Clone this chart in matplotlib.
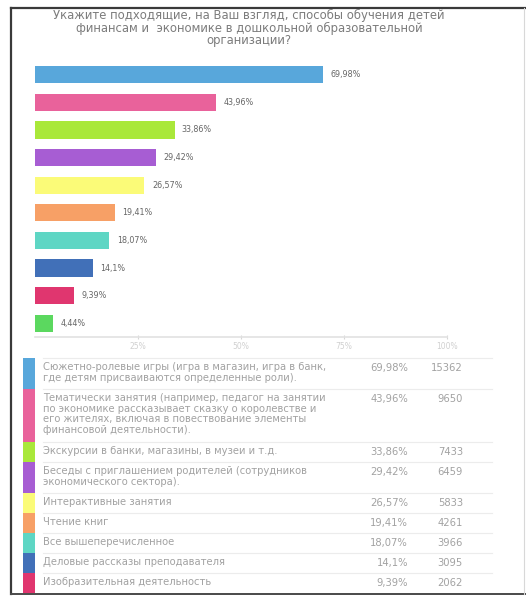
"""Survey bar chart with a summary table below (methods of teaching children finance)."""

import matplotlib

matplotlib.use("Agg")
import matplotlib.pyplot as plt
from matplotlib.patches import Rectangle

W, H = 526, 596

TITLE = (
    "Укажите подходящие, на Ваш взгляд, способы обучения детей\n"
    "финансам и  экономике в дошкольной образовательной\n"
    "организации?"
)

CATEGORIES = [
    "Сюжетно-ролевые игры (игра в магазин, игра в банк,\n"
    "где детям присваиваются определенные роли).",
    "Тематически занятия (например, педагог на занятии\n"
    "по экономике рассказывает сказку о королевстве и\n"
    "его жителях, включая в повествование элементы\n"
    "финансовой деятельности).",
    "Экскурсии в банки, магазины, в музеи и т.д.",
    "Беседы с приглашением родителей (сотрудников\n"
    "экономического сектора).",
    "Интерактивные занятия",
    "Чтение книг",
    "Все вышеперечисленное",
    "Деловые рассказы преподавателя",
    "Изобразительная деятельность",
    "Другое",
]
PERCENTS = [69.98, 43.96, 33.86, 29.42, 26.57, 19.41, 18.07, 14.1, 9.39, 4.44]
COUNTS = [15362, 9650, 7433, 6459, 5833, 4261, 3966, 3095, 2062, 975]
COLORS = [
    "#58a7db", "#e9629b", "#a9e83a", "#a75dd3", "#fbfb78",
    "#f7a066", "#5ed6c4", "#4170b8", "#e0366f", "#5bd85f",
]
X_TICKS = [25, 50, 75, 100]


def fmt_pct(v):
    return f"{v:g}".replace(".", ",") + "%"


fig = plt.figure(figsize=(W / 100, H / 100), dpi=100)

# pixel-space overlay for frame, title and table
bg = fig.add_axes([0, 0, 1, 1])
bg.set_xlim(0, W)
bg.set_ylim(H, 0)
bg.axis("off")

frame_top, frame_left, frame_bottom, frame_right = 8, 11, 594, 524
bg.plot([frame_left, W], [frame_top, frame_top], color="#3a3a3a", lw=1.6)
bg.plot([frame_left, frame_left], [frame_top, frame_bottom], color="#3a3a3a", lw=1.6)
bg.plot([frame_left, W], [frame_bottom, frame_bottom], color="#4a4a4a", lw=1.4)
bg.plot([frame_right, frame_right], [frame_top, frame_bottom], color="#d8d8d8", lw=0.8)

bg.text(249, 28, TITLE, ha="center", va="center", fontsize=8.4,
        color="#7c7c7c", linespacing=0.98)

# bar chart
left_px, right_px, top_px, bottom_px = 35, 447, 61, 337
ax = fig.add_axes([
    left_px / W, 1 - bottom_px / H,
    (right_px - left_px) / W, (bottom_px - top_px) / H,
])
ax.set_facecolor("none")
ypos = list(range(len(PERCENTS)))
ax.barh(ypos, PERCENTS, height=0.62, color=COLORS)
for y, v in zip(ypos, PERCENTS):
    ax.text(v + 1.8, y, fmt_pct(v), va="center", ha="left",
            fontsize=5.8, color="#666666")
ax.set_xlim(0, 100)
ax.set_ylim(len(PERCENTS) - 0.5, -0.5)
ax.set_yticks([])
ax.set_xticks(X_TICKS)
ax.set_xticklabels([f"{t}%" for t in X_TICKS])
ax.tick_params(axis="x", colors="#d6d6d6", labelcolor="#d0d0d0",
               labelsize=5.5, length=3, width=0.8, direction="inout", pad=2)
for side in ("top", "right", "left"):
    ax.spines[side].set_visible(False)
ax.spines["bottom"].set_color("#e2e2e2")
ax.spines["bottom"].set_linewidth(1.2)

# table below the chart
row_top = 358
line_h = 11
for label, pct, cnt, col in zip(CATEGORIES, PERCENTS, COUNTS, COLORS):
    n_lines = label.count("\n") + 1
    row_h = 9 + line_h * n_lines
    if row_top + row_h > frame_bottom + 3:
        break
    bottom = min(row_top + row_h, frame_bottom)
    bg.add_patch(Rectangle((23, row_top), 12, bottom - row_top,
                           facecolor=col, edgecolor="none"))
    bg.plot([43, 492], [row_top, row_top], color="#ececec", lw=0.8)
    bg.text(43, row_top + 4, label, ha="left", va="top", fontsize=7.2,
            color="#a2a2a2", linespacing=1.08)
    bg.text(408, row_top + 10, fmt_pct(pct), ha="right", va="center",
            fontsize=7.2, color="#a2a2a2")
    bg.text(463, row_top + 10, str(cnt), ha="right", va="center",
            fontsize=7.2, color="#a2a2a2")
    row_top += row_h

fig.savefig("out.png", dpi=100)
plt.close(fig)
